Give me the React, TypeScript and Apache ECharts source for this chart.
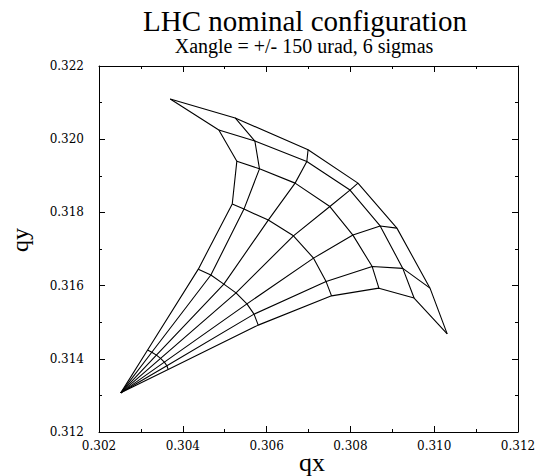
import { useEffect, useRef } from "react";
import * as echarts from "echarts";

// zero-amplitude tune
const originQx = 0.30252;
const originQy = 0.31307;

// amplitude rings (index 0 = horizontal-most ray, index 6 = vertical-most ray)
const ring1Qx = [0.30365, 0.30362, 0.30356, 0.30347, 0.30337, 0.30326, 0.30316];
const ring1Qy = [0.31371, 0.31381, 0.31391, 0.31401, 0.3141, 0.31418, 0.31424];
const ring2Qx = [0.3058, 0.3057, 0.30553, 0.30527, 0.30498, 0.30467, 0.30437];
const ring2Qy = [0.31492, 0.31522, 0.3155, 0.3158, 0.31604, 0.31629, 0.31645];
const ring3Qx = [0.30755, 0.30742, 0.30712, 0.30664, 0.30604, 0.30546, 0.30518];
const ring3Qy = [0.31572, 0.31611, 0.31675, 0.31736, 0.31779, 0.31809, 0.31823];
const ring4Qx = [0.30868, 0.30852, 0.30806, 0.30751, 0.30668, 0.30583, 0.30529];
const ring4Qy = [0.31593, 0.31652, 0.31738, 0.31816, 0.3188, 0.31919, 0.3194];
const ring5Qx = [0.30952, 0.30925, 0.30871, 0.30799, 0.30696, 0.30572, 0.30486];
const ring5Qy = [0.31566, 0.31647, 0.31763, 0.31861, 0.31939, 0.31995, 0.32025];
const ring6Qx = [0.31031, 0.3099, 0.30911, 0.30818, 0.30699, 0.30525, 0.3037];
const ring6Qy = [0.31468, 0.31593, 0.31757, 0.3188, 0.31971, 0.32058, 0.3211];

const ringsQx = [ring1Qx, ring2Qx, ring3Qx, ring4Qx, ring5Qx, ring6Qx];
const ringsQy = [ring1Qy, ring2Qy, ring3Qy, ring4Qy, ring5Qy, ring6Qy];

const titleText = "LHC nominal configuration";
const subtitleText = "Xangle = +/- 150 urad, 6 sigmas";

export default function App() {
  const ref = useRef<HTMLDivElement>(null);

  useEffect(() => {
    if (!ref.current) return;
    const chart = echarts.init(ref.current, undefined, { renderer: "svg" });

    const lineStyle = { color: "#000", width: 1.1 };
    const series: any[] = [];
    // rings
    ringsQx.forEach((qxs, r) => {
      series.push({
        type: "line",
        name: "ring" + (r + 1),
        data: qxs.map((x, k) => [x, ringsQy[r][k]]),
        showSymbol: false,
        symbol: "none",
        lineStyle,
        silent: true,
      });
    });
    // rays
    for (let k = 0; k < ring1Qx.length; k++) {
      const pts: number[][] = [[originQx, originQy]];
      ringsQx.forEach((qxs, r) => pts.push([qxs[k], ringsQy[r][k]]));
      series.push({
        type: "line",
        name: "ray" + k,
        data: pts,
        showSymbol: false,
        symbol: "none",
        lineStyle,
        silent: true,
      });
    }

    const tickCommon = {
      axisLine: { show: true, onZero: false, lineStyle: { color: "#000", width: 1 } },
      axisTick: { show: true, inside: true, length: 6, lineStyle: { color: "#000", width: 1 } },
      minorTick: { show: true, splitNumber: 2, length: 3, lineStyle: { color: "#000", width: 1 } },
      splitLine: { show: false },
      minorSplitLine: { show: false },
    };
    const labelStyle = {
      color: "#000",
      fontFamily: "DejaVu Serif",
      fontSize: 12,
      formatter: (v: number) => v.toFixed(3),
    };

    chart.setOption({
      animation: false,
      backgroundColor: "#fff",
      grid: { left: 99, right: 27, top: 66, bottom: 44, containLabel: false },
      xAxis: [
        {
          type: "value",
          position: "bottom",
          min: 0.302,
          max: 0.312,
          interval: 0.002,
          ...tickCommon,
          axisLabel: { ...labelStyle, margin: 8 },
        },
        {
          type: "value",
          position: "top",
          min: 0.302,
          max: 0.312,
          interval: 0.002,
          ...tickCommon,
          axisLabel: { show: false },
        },
      ],
      yAxis: [
        {
          type: "value",
          position: "left",
          min: 0.312,
          max: 0.322,
          interval: 0.002,
          ...tickCommon,
          axisLabel: { ...labelStyle, margin: 15 },
        },
        {
          type: "value",
          position: "right",
          min: 0.312,
          max: 0.322,
          interval: 0.002,
          ...tickCommon,
          axisLabel: { show: false },
        },
      ],
      graphic: [
        {
          type: "text",
          x: 305,
          y: 21,
          style: {
            text: titleText,
            fill: "#000",
            fontSize: 29,
            lineHeight: 24,
            fontFamily: "Liberation Serif",
            align: "center",
            verticalAlign: "middle",
          },
        },
        {
          type: "text",
          x: 304,
          y: 46,
          style: {
            text: subtitleText,
            fill: "#000",
            fontSize: 20,
            lineHeight: 17,
            fontFamily: "Liberation Serif",
            align: "center",
            verticalAlign: "middle",
          },
        },
        {
          type: "text",
          x: 312,
          y: 462,
          style: {
            text: "qx",
            fill: "#000",
            fontSize: 26,
            lineHeight: 20,
            fontFamily: "Liberation Serif",
            align: "center",
            verticalAlign: "middle",
          },
        },
        {
          type: "text",
          x: 20,
          y: 240,
          rotation: Math.PI / 2,
          style: {
            text: "qy",
            fill: "#000",
            fontSize: 24,
            fontFamily: "Liberation Serif",
            align: "center",
            verticalAlign: "middle",
          },
        },
      ],
      series,
    });

    return () => chart.dispose();
  }, []);

  return (
    <div
      ref={ref}
      style={{ position: "absolute", left: 0, top: 0, width: 545, height: 476 }}
    />
  );
}
